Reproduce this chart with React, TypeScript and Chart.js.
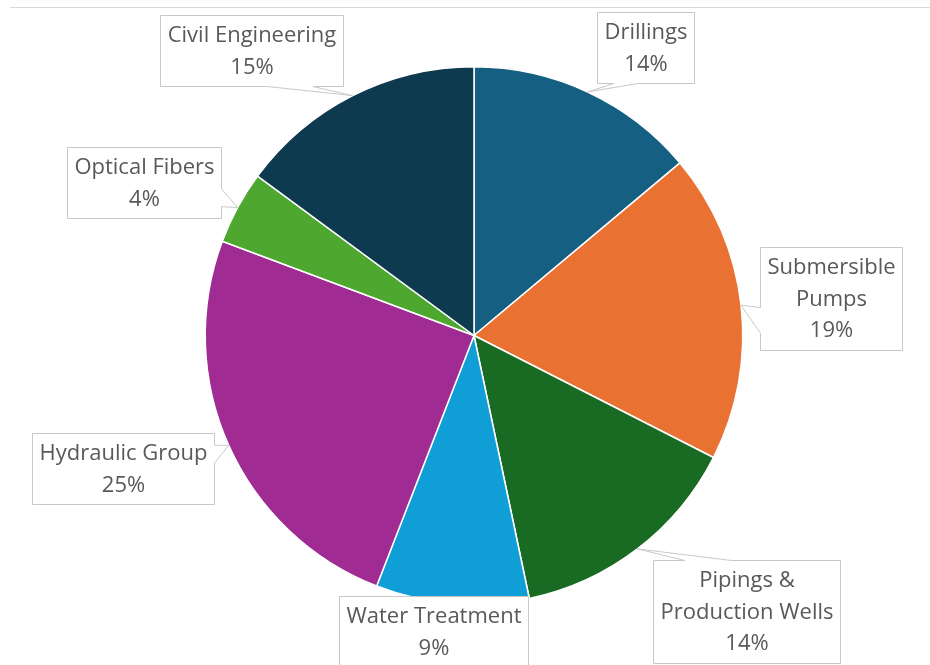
import React, { useEffect, useRef } from "react";
import { Chart, registerables } from "chart.js";

Chart.register(...registerables);

const CATEGORIES = [
  "Drillings",
  "Submersible Pumps",
  "Pipings & Production Wells",
  "Water Treatment",
  "Hydraulic Group",
  "Optical Fibers",
  "Civil Engineering",
];
const VALUES = [13.9, 18.6, 14.2, 9.2, 24.8, 4.4, 14.9];
const COLORS = ["#156082", "#E97132", "#196B24", "#0F9ED5", "#A02B93", "#4EA72E", "#0E3A50"];

// label box centre offsets from the pie centre (layout only)
const LABEL_OFFSETS: [number, number][] = [
  [171, -288.5],
  [356.5, -37.5],
  [272.5, 276],
  [-41, 296],
  [-351.5, 132.5],
  [-330, -153],
  [-222.5, -285],
];

const FONT = '22px "Open Sans", sans-serif';
const TEXT_COLOR = "#595959";
const BOX_BORDER = "#c8c8c8";
const PAD_X = 7;
const LINE_H = 31.5;
const WRAP_W = 185;

function wrap(ctx: CanvasRenderingContext2D, text: string): string[] {
  const words = text.split(" ");
  const lines: string[] = [];
  let cur = "";
  for (const w of words) {
    const test = cur ? cur + " " + w : w;
    if (cur && ctx.measureText(test).width > WRAP_W) {
      lines.push(cur);
      cur = w;
    } else cur = test;
  }
  if (cur) lines.push(cur);
  return lines;
}

function calloutPath(ctx: CanvasRenderingContext2D, l: number, t: number, w: number, h: number, px: number, py: number) {
  const r = l + w, b = t + h, hc = l + w / 2, vc = t + h / 2;
  ctx.beginPath();
  const inside = px >= l && px <= r && py >= t && py <= b;
  if (inside) {
    ctx.rect(l, t, w, h);
    return;
  }
  const dx = px - hc, dy = py - vc;
  const dq = (dx * h) / w;
  const dz = Math.abs(dy) - Math.abs(dq);
  const x1 = l + (w * (dx > 0 ? 7 : 2)) / 12, x2 = l + (w * (dx > 0 ? 10 : 5)) / 12;
  const y1 = t + (h * (dy > 0 ? 7 : 2)) / 12, y2 = t + (h * (dy > 0 ? 10 : 5)) / 12;
  const edge = dz > 0 ? (dy < 0 ? "top" : "bottom") : dx < 0 ? "left" : "right";
  ctx.moveTo(l, t);
  if (edge === "top") { ctx.lineTo(x1, t); ctx.lineTo(px, py); ctx.lineTo(x2, t); }
  ctx.lineTo(r, t);
  if (edge === "right") { ctx.lineTo(r, y1); ctx.lineTo(px, py); ctx.lineTo(r, y2); }
  ctx.lineTo(r, b);
  if (edge === "bottom") { ctx.lineTo(x2, b); ctx.lineTo(px, py); ctx.lineTo(x1, b); }
  ctx.lineTo(l, b);
  if (edge === "left") { ctx.lineTo(l, y2); ctx.lineTo(px, py); ctx.lineTo(l, y1); }
  ctx.closePath();
}

const calloutPlugin = {
  id: "callouts",
  beforeDraw(chart: any) {
    const ctx = chart.ctx as CanvasRenderingContext2D;
    ctx.save();
    ctx.strokeStyle = "#d9d9d9";
    ctx.lineWidth = 1;
    ctx.beginPath();
    ctx.moveTo(10, 7.5);
    ctx.lineTo(chart.width, 7.5);
    ctx.stroke();
    ctx.restore();
  },
  afterDatasetsDraw(chart: any) {
    const ctx = chart.ctx as CanvasRenderingContext2D;
    const meta = chart.getDatasetMeta(0);
    const data = chart.data.datasets[0].data as number[];
    const total = data.reduce((a, b) => a + b, 0);
    ctx.save();
    ctx.font = FONT;
    meta.data.forEach((arc: any, i: number) => {
      const p = arc.getProps(["x", "y", "startAngle", "endAngle", "outerRadius"], true);
      const mid = (p.startAngle + p.endAngle) / 2;
      const tipX = p.x + Math.cos(mid) * p.outerRadius;
      const tipY = p.y + Math.sin(mid) * p.outerRadius;
      const lines = wrap(ctx, chart.data.labels[i]);
      lines.push(Math.round((data[i] / total) * 100) + "%");
      const tw = Math.max(...lines.map((s) => ctx.measureText(s).width));
      const w = Math.round(tw + PAD_X * 2);
      const h = Math.round(20.5 + 19 + (lines.length - 1) * LINE_H);
      const cx = p.x + LABEL_OFFSETS[i][0];
      const cy = p.y + LABEL_OFFSETS[i][1];
      const l = Math.round(cx - w / 2) + 0.5;
      const t = Math.round(cy - h / 2) + 0.5;
      calloutPath(ctx, l, t, w, h, tipX, tipY);
      ctx.fillStyle = "#ffffff";
      ctx.fill();
      ctx.strokeStyle = BOX_BORDER;
      ctx.lineWidth = 1;
      ctx.stroke();
      ctx.fillStyle = TEXT_COLOR;
      ctx.textAlign = "center";
      ctx.textBaseline = "middle";
      lines.forEach((s, k) => {
        ctx.fillText(s, l + w / 2, t + 20.5 + k * LINE_H);
      });
    });
    ctx.restore();
  },
};

export default function App() {
  const ref = useRef<HTMLCanvasElement | null>(null);
  useEffect(() => {
    if (!ref.current) return;
    const chart = new Chart(ref.current, {
      type: "pie",
      data: {
        labels: CATEGORIES,
        datasets: [
          {
            data: VALUES,
            backgroundColor: COLORS,
            borderColor: "#ffffff",
            borderWidth: 1.5,
          },
        ],
      },
      options: {
        responsive: false,
        animation: false,
        layout: { padding: { top: 66, left: 204.5, right: 186.5, bottom: 60 } },
        plugins: {
          legend: { display: false },
          tooltip: { enabled: false },
        },
      },
      plugins: [calloutPlugin],
    });
    return () => chart.destroy();
  }, []);
  return (
    <div style={{ position: "absolute", left: 0, top: 0, width: 930, height: 665, background: "#fff" }}>
      <canvas ref={ref} width={930} height={665} style={{ display: "block" }} />
    </div>
  );
}
